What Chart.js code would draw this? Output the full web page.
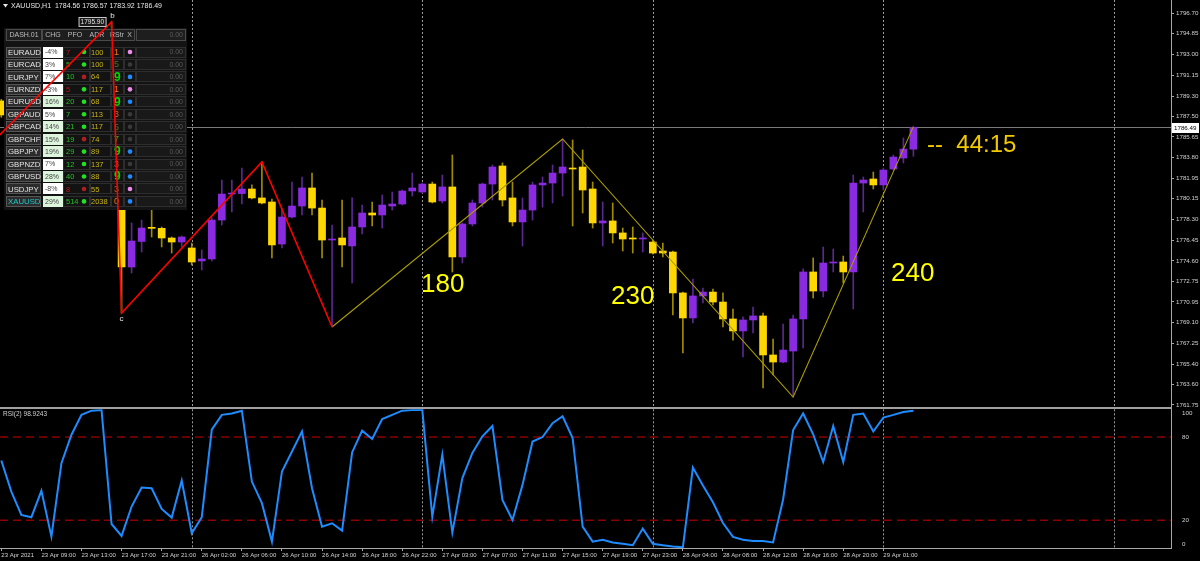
<!DOCTYPE html>
<html>
<head>
<meta charset="utf-8">
<script src="https://cdn.jsdelivr.net/npm/chart.js@4.4.1/dist/chart.umd.min.js"></script>
<style>
  html, body { margin: 0; padding: 0; background: #000; }
  #wrap { position: relative; width: 1200px; height: 561px; background: #000; overflow: hidden; }
  #price { position: absolute; left: 0; top: 0; }
  #rsi { position: absolute; left: 0; top: 408px; }
  #sep { position: absolute; left: 0; top: 407px; width: 1172px; height: 2px; background: #a0a0a0; }
</style>
</head>
<body>
<div id="wrap">
  <canvas id="price" width="1200" height="408"></canvas>
  <canvas id="rsi" width="1200" height="153"></canvas>
  <div id="sep"></div>
</div>
<script>
// ---- data (bar index 0 = 23 Apr 05:00, H1 bars) ----
const opens = [1788.86, null, null, null, null, null, null, null, null, null, null, 1794.74,
  1781.54, 1774.05, 1776.33, 1777.53, 1777.50, 1776.64, 1776.28, 1775.75, 1774.59, 1774.77,
  1778.24, 1780.56, 1780.60, 1781.01, 1780.21, 1779.85, 1776.10, 1778.51, 1779.49, 1781.10,
  1779.31, 1776.46, 1776.64, 1775.93, 1777.62, 1778.87, 1778.69, 1779.49, 1779.67, 1780.83,
  1780.74, 1781.45, 1779.94, 1781.19, 1774.95, 1777.89, 1779.76, 1781.45, 1783.06, 1780.21,
  1778.07, 1779.13, 1781.37, 1781.54, 1782.43, 1782.88, 1782.97, 1781.01, 1777.98, 1778.16,
  1777.09, 1776.64, 1776.55, 1776.28, 1775.48, 1775.39, 1771.74, 1769.51, 1771.47, 1771.82,
  1770.93, 1769.42, 1768.35, 1769.33, 1769.69, 1766.21, 1765.58, 1766.56, 1769.42, 1773.61,
  1771.91, 1774.41, 1774.50, 1773.61, 1781.54, 1781.90, 1781.37, 1782.79, 1783.77, 1784.56];
const highs = [1789.00, null, null, null, null, null, null, null, null, null, null, 1795.90,
  1781.99, 1777.98, 1778.24, 1779.31, 1777.62, 1776.73, 1776.82, 1776.19, 1775.57, 1778.42,
  1781.81, 1781.81, 1782.88, 1781.37, 1783.42, 1780.12, 1779.31, 1781.63, 1782.08, 1782.43,
  1780.03, 1777.80, 1780.03, 1780.21, 1779.58, 1779.85, 1780.47, 1780.74, 1780.92, 1782.43,
  1781.54, 1781.63, 1782.26, 1784.04, 1777.98, 1780.03, 1781.54, 1783.15, 1783.33, 1781.63,
  1780.21, 1781.63, 1782.08, 1783.15, 1785.47, 1785.38, 1784.49, 1781.63, 1779.85, 1779.76,
  1777.53, 1777.62, 1777.09, 1776.46, 1776.19, 1775.48, 1771.82, 1772.98, 1772.18, 1772.09,
  1771.74, 1770.31, 1769.60, 1770.49, 1769.95, 1767.63, 1768.97, 1769.77, 1773.88, 1774.86,
  1775.84, 1775.66, 1775.03, 1782.26, 1782.08, 1782.52, 1782.88, 1784.04, 1785.56, 1786.57];
const lows = [1787.40, null, null, null, null, null, null, null, null, null, null, 1781.37,
  1769.95, 1773.52, 1775.39, 1776.73, 1775.84, 1775.30, 1775.84, 1774.23, 1773.79, 1774.59,
  1777.80, 1778.96, 1779.67, 1780.12, 1779.67, 1774.86, 1775.75, 1778.42, 1778.69, 1778.69,
  1774.86, 1768.70, 1774.05, 1772.63, 1777.00, 1777.71, 1777.53, 1779.13, 1779.58, 1780.38,
  1780.65, 1779.76, 1779.76, 1773.61, 1774.41, 1777.71, 1779.40, 1780.03, 1779.49, 1777.71,
  1775.93, 1778.24, 1779.40, 1779.76, 1780.38, 1777.71, 1778.87, 1777.53, 1775.93, 1776.19,
  1775.48, 1775.30, 1775.39, 1775.21, 1774.95, 1769.77, 1766.39, 1769.06, 1770.84, 1770.67,
  1768.70, 1767.54, 1766.03, 1768.17, 1763.27, 1764.43, 1765.49, 1762.46, 1766.83, 1771.29,
  1771.38, 1773.61, 1772.63, 1770.31, 1778.96, 1781.01, 1780.92, 1782.70, 1783.33, 1783.92];
const closes = [1787.61, null, null, null, null, null, null, null, null, null, null, 1781.54,
  1774.05, 1776.37, 1777.53, 1777.50, 1776.64, 1776.28, 1776.73, 1774.50, 1774.77, 1778.24,
  1780.56, 1780.65, 1781.01, 1780.21, 1779.76, 1776.02, 1778.51, 1779.49, 1781.10, 1779.31,
  1776.46, 1776.55, 1776.02, 1777.62, 1778.87, 1778.69, 1779.58, 1779.67, 1780.83, 1781.10,
  1781.45, 1779.85, 1781.19, 1774.95, 1777.89, 1779.76, 1781.45, 1782.97, 1780.03, 1778.07,
  1779.13, 1781.37, 1781.54, 1782.43, 1782.97, 1782.79, 1780.92, 1777.98, 1778.16, 1777.09,
  1776.55, 1776.55, 1776.64, 1775.30, 1775.30, 1771.74, 1769.51, 1771.47, 1771.82, 1770.93,
  1769.42, 1768.35, 1769.33, 1769.69, 1766.21, 1765.58, 1766.65, 1769.42, 1773.61, 1771.91,
  1774.41, 1774.50, 1773.61, 1781.54, 1781.81, 1781.37, 1782.70, 1783.86, 1784.57, 1786.49];

const rsiValues = [63.1, 40.7, 23.9, 22.2, 41.2, 8.2, 61.2, 81.7, 96, 99, 99.5, 17.3,
  8.7, 29.9, 43.6, 43.1, 28.2, 21.9, 48.7, 10.6, 22.2, 85.3, 96, 97,
  99, 47.9, 32.3, 4.6, 55.2, 69.6, 84.1, 43.1, 15.4, 17.8, 12.5, 68.9,
  84.6, 78.6, 93, 96, 99, 99.5, 99.7, 22.6, 67.2, 11.1, 50.4, 68.5,
  80.5, 88, 34.7, 20.2, 45.5, 76.8, 80.0, 90, 95, 79.3, 15.4, 4.6,
  6, 4, 3, 2, 14, 3, 2, 1, 0.5, 58, 45, 33,
  18, 8, 6, 5, 5, 4, 35, 85, 97, 82, 62, 88,
  62, 96, 97, 84, 94, 96, 98, 98.92];
const rsiLevels = [80, 20];

// zigzag turning points: [bar index, price]
const zigRed = [[-2, 1784.16], [11, 1795.90], [12, 1769.95], [26, 1783.42], [33, 1768.70]];
const zigOlive = [[33, 1768.70], [56, 1785.47], [79, 1762.46], [91, 1786.57]];
const lastPrice = 1786.49;

const priceTicks = [1796.70, 1794.85, 1793.00, 1791.15, 1789.30, 1787.50, 1785.65, 1783.80,
  1781.95, 1780.15, 1778.30, 1776.45, 1774.60, 1772.75, 1770.95, 1769.10, 1767.25, 1765.40,
  1763.60, 1761.75];
const rsiTicks = [0, 20, 80, 100];
const xLabelIdx = [0, 4, 8, 12, 16, 20, 24, 28, 32, 36, 40, 44, 48, 52, 56, 60, 64, 68, 72, 76, 80, 84, 88];
const xLabelText = ['23 Apr 2021', '23 Apr 09:00', '23 Apr 13:00', '23 Apr 17:00', '23 Apr 21:00',
  '26 Apr 02:00', '26 Apr 06:00', '26 Apr 10:00', '26 Apr 14:00', '26 Apr 18:00', '26 Apr 22:00',
  '27 Apr 03:00', '27 Apr 07:00', '27 Apr 11:00', '27 Apr 15:00', '27 Apr 19:00', '27 Apr 23:00',
  '28 Apr 04:00', '28 Apr 08:00', '28 Apr 12:00', '28 Apr 16:00', '28 Apr 20:00', '29 Apr 01:00'];
const daySeparators = [19, 42, 65, 88, 111];

// dashboard table
const dashSyms = ['EURAUD', 'EURCAD', 'EURJPY', 'EURNZD', 'EURUSD', 'GBPAUD', 'GBPCAD',
  'GBPCHF', 'GBPJPY', 'GBPNZD', 'GBPUSD', 'USDJPY', 'XAUUSD'];
const dashChg = ['-4%', '3%', '7%', '-3%', '16%', '5%', '14%', '15%', '19%', '7%', '28%', '-8%', '29%'];
const dashChgHot = [0, 0, 0, 0, 1, 0, 1, 1, 1, 0, 1, 0, 1];
const dashPfo = [7, 5, 10, 5, 20, 7, 21, 19, 29, 12, 40, 8, 514];
const dashPfoUp = [0, 1, 1, 0, 1, 1, 1, 1, 1, 1, 1, 0, 1];
const dashDotUp = [1, 1, 0, 1, 1, 1, 1, 0, 1, 1, 1, 0, 1];
const dashAdr = [100, 100, 64, 117, 68, 113, 117, 74, 89, 137, 88, 55, 2038];
const dashRstr = [1, 5, 9, 1, 9, 3, 5, 7, 9, 3, 9, 3, 0];
const dashX = ['v', 'g', 'b', 'v', 'b', 'g', 'g', 'g', 'b', 'g', 'b', 'v', 'b'];

// ---- styling ----
const X_MIN = -0.13, X_MAX = 116.7;
const BULL = '#8a2be2', BEAR = '#ffd700';
const BULL_WICK = '#5a2890', BEAR_WICK = '#a08a00';
const AXIS = '#a8a8a8', LABEL = '#d2d2d2';
const FONT = '"Liberation Sans", Arial, sans-serif';

const bars = opens.map((o, i) => ({ i, o, h: highs[i], l: lows[i], c: closes[i] })).filter(b => b.o != null);
const bodies = bars.map(b => ({ x: b.i, y: [b.o, b.c] }));
const wicks = bars.map(b => ({ x: b.i, y: [b.l, b.h] }));
const bodyColors = bars.map(b => b.c >= b.o ? BULL : BEAR);
const wickColors = bars.map(b => b.c >= b.o ? BULL_WICK : BEAR_WICK);

function dottedSeparators(chart) {
  const { ctx, chartArea: a, scales: { x } } = chart;
  ctx.save();
  ctx.strokeStyle = '#9a9a9a';
  ctx.lineWidth = 1;
  ctx.setLineDash([2, 2]);
  daySeparators.forEach(v => {
    const px = Math.round(x.getPixelForValue(v)) + 0.5;
    ctx.beginPath();
    ctx.moveTo(px, a.top);
    ctx.lineTo(px, a.bottom);
    ctx.stroke();
  });
  ctx.restore();
}

function rstrStyle(v) {
  if (v >= 9) return ['#00d800', 'bold 12px ' + FONT];
  if (v >= 7) return ['#22b422', '9px ' + FONT];
  if (v >= 5) return ['#58741c', '9px ' + FONT];
  if (v >= 3) return ['#c8641a', '9px ' + FONT];
  return ['#f07814', '9px ' + FONT];
}
const xDotColor = { v: '#f08cf0', g: '#3a3a3a', b: '#1e8cff' };

function drawDash(ctx) {
  ctx.save();
  ctx.fillStyle = '#131313';
  ctx.fillRect(4, 28, 183, 182);
  ctx.lineWidth = 1;
  ctx.textBaseline = 'middle';
  // header
  ctx.fillStyle = '#1e1e1e';
  ctx.fillRect(5, 29, 181, 12);
  ctx.strokeStyle = '#4a4a4a';
  ctx.strokeRect(6.5, 29.5, 35, 11);
  ctx.strokeRect(42.5, 29.5, 92, 11);
  ctx.strokeRect(136.5, 29.5, 49, 11);
  ctx.font = '7px ' + FONT;
  ctx.fillStyle = '#bdbdbd';
  ctx.textAlign = 'center';
  ctx.fillText('DASH.01', 24, 35.5);
  ctx.fillText('CHG', 53, 35.5);
  ctx.fillText('PFO', 75, 35.5);
  ctx.fillText('ADR', 97, 35.5);
  ctx.fillText('RStr', 117, 35.5);
  ctx.fillText('X', 129.5, 35.5);
  ctx.textAlign = 'right';
  ctx.fillStyle = '#5a5a5a';
  ctx.fillText('0.00', 183, 35.5);

  dashSyms.forEach((sym, r) => {
    const cy = 52 + r * 12.45, top = Math.round(cy - 5.5);
    // symbol
    ctx.fillStyle = '#2c2c2c';
    ctx.fillRect(6, top, 35, 11);
    ctx.strokeStyle = '#555';
    ctx.strokeRect(6.5, top + 0.5, 34, 10);
    ctx.textAlign = 'left';
    ctx.font = '7.8px ' + FONT;
    ctx.fillStyle = sym === 'XAUUSD' ? '#1cc8c8' : '#e4e4e4';
    ctx.fillText(sym, 8, cy + 0.5);
    // change
    ctx.fillStyle = dashChgHot[r] ? '#dcf5dc' : '#ffffff';
    ctx.fillRect(43, top, 20, 11);
    ctx.fillStyle = '#444';
    ctx.font = '7px ' + FONT;
    ctx.fillText(dashChg[r], 45, cy + 0.5);
    // other cells
    ctx.strokeStyle = '#2e2e2e';
    ctx.strokeRect(63.5, top + 0.5, 26, 10);
    ctx.strokeRect(90.5, top + 0.5, 20, 10);
    ctx.strokeRect(111.5, top + 0.5, 12, 10);
    ctx.strokeRect(124.5, top + 0.5, 11, 10);
    ctx.fillStyle = '#191919';
    ctx.fillRect(136, top, 50, 11);
    ctx.strokeRect(136.5, top + 0.5, 49, 10);
    ctx.font = '7.5px ' + FONT;
    ctx.fillStyle = dashPfoUp[r] ? '#22c022' : '#c41414';
    ctx.fillText(String(dashPfo[r]), 66, cy + 0.5);
    ctx.beginPath();
    ctx.arc(84, cy, 2.3, 0, Math.PI * 2);
    ctx.fillStyle = dashDotUp[r] ? '#1ee61e' : '#b01e1e';
    ctx.fill();
    ctx.fillStyle = '#c8b414';
    ctx.fillText(String(dashAdr[r]), 91, cy + 0.5);
    const [rc, rf] = rstrStyle(dashRstr[r]);
    ctx.fillStyle = rc;
    ctx.font = rf;
    ctx.fillText(String(dashRstr[r]), 114, cy + 0.5);
    ctx.beginPath();
    ctx.arc(130, cy, 2.3, 0, Math.PI * 2);
    ctx.fillStyle = xDotColor[dashX[r]];
    ctx.fill();
    ctx.textAlign = 'right';
    ctx.font = '7px ' + FONT;
    ctx.fillStyle = '#5a5a5a';
    ctx.fillText('0.00', 183, cy + 0.5);
  });
  ctx.restore();
}

const priceDecor = {
  id: 'priceDecor',
  beforeDraw(chart) {
    const ctx = chart.ctx;
    ctx.save();
    ctx.fillStyle = '#000';
    ctx.fillRect(0, 0, chart.width, chart.height);
    ctx.restore();
  },
  beforeDatasetsDraw(chart) { dottedSeparators(chart); },
  afterDatasetDraw(chart, args) {
    if (chart.data.datasets[args.index].label === 'body') drawDash(chart.ctx);
  },
  afterDraw(chart) {
    const { ctx, scales: { x, y } } = chart;
    ctx.save();
    ctx.textBaseline = 'middle';
    // header line
    ctx.fillStyle = '#e6e6e6';
    ctx.beginPath();
    ctx.moveTo(3, 4); ctx.lineTo(8, 4); ctx.lineTo(5.5, 7.5); ctx.closePath(); ctx.fill();
    ctx.font = '7px ' + FONT;
    ctx.textAlign = 'left';
    ctx.fillText('XAUUSD,H1  1784.56 1786.57 1783.92 1786.49', 11, 6);
    // zigzag labels
    const bx = x.getPixelForValue(zigRed[1][0]), by = y.getPixelForValue(zigRed[1][1]);
    ctx.fillStyle = '#1a1a1a';
    ctx.fillRect(bx - 33, by - 5, 28, 10);
    ctx.strokeStyle = '#c8c8c8';
    ctx.lineWidth = 1;
    ctx.strokeRect(bx - 32.5, by - 4.5, 27, 9);
    ctx.fillStyle = '#e6e6e6';
    ctx.font = '6.5px ' + FONT;
    ctx.fillText('1795.90', bx - 31, by + 0.5);
    ctx.font = '8px ' + FONT;
    ctx.textAlign = 'center';
    ctx.fillText('b', bx + 1, by - 6);
    const cx = x.getPixelForValue(zigRed[2][0]), cyy = y.getPixelForValue(zigRed[2][1]);
    ctx.fillText('c', cx, cyy + 6);
    // count labels
    ctx.fillStyle = '#ffff00';
    ctx.font = '26px ' + FONT;
    ctx.textAlign = 'left';
    ctx.fillText('180', 421, 285);
    ctx.fillText('230', 611, 297);
    ctx.fillText('240', 891, 274);
    ctx.fillStyle = '#f2c800';
    ctx.font = '24px ' + FONT;
    ctx.fillText('--  44:15', 927, 145);
    // last price box on the axis
    const ly = y.getPixelForValue(lastPrice);
    ctx.fillStyle = '#ffffff';
    ctx.fillRect(1172, Math.round(ly) - 5, 27, 10);
    ctx.fillStyle = '#000';
    ctx.font = '6.2px ' + FONT;
    ctx.fillText(lastPrice.toFixed(2), 1174, ly + 0.5);
    ctx.restore();
  }
};

new Chart(document.getElementById('price'), {
  type: 'bar',
  data: {
    datasets: [
      { type: 'line', label: 'zigRed', data: zigRed.map(p => ({ x: p[0], y: p[1] })),
        borderColor: '#ff0000', borderWidth: 1.6, pointRadius: 0, order: 1 },
      { type: 'line', label: 'zigOlive', data: zigOlive.map(p => ({ x: p[0], y: p[1] })),
        borderColor: '#aa9c00', borderWidth: 1.1, pointRadius: 0, order: 2 },
      { type: 'bar', label: 'body', data: bodies, backgroundColor: bodyColors,
        barThickness: 7, maxBarThickness: 7, grouped: false, minBarLength: 1, order: 4 },
      { type: 'bar', label: 'wick', data: wicks, backgroundColor: wickColors,
        barThickness: 1, maxBarThickness: 1, grouped: false, order: 5 },
      { type: 'line', label: 'last', data: [{ x: X_MIN, y: lastPrice }, { x: X_MAX, y: lastPrice }],
        borderColor: '#7a7a7a', borderWidth: 1, pointRadius: 0, order: 6 },
    ]
  },
  options: {
    responsive: false,
    animation: false,
    layout: { padding: { top: 0, left: 0, right: 0, bottom: 2 } },
    plugins: { legend: { display: false }, tooltip: { enabled: false } },
    scales: {
      x: { type: 'linear', min: X_MIN, max: X_MAX, offset: false, display: false },
      y: {
        position: 'right', min: 1761.66, max: 1797.86,
        afterBuildTicks: (s) => { s.ticks = priceTicks.map(v => ({ value: v })); },
        afterFit: (s) => { s.width = 29; s.paddingTop = 0; s.paddingBottom = 0; },
        ticks: { callback: (v) => Number(v).toFixed(2), color: LABEL, font: { size: 6.2, family: FONT },
          padding: 2, autoSkip: false },
        grid: { drawOnChartArea: false, tickLength: 3, tickColor: AXIS },
        border: { color: AXIS },
      },
    },
  },
  plugins: [priceDecor],
});

const rsiDecor = {
  id: 'rsiDecor',
  beforeDraw(chart) {
    const ctx = chart.ctx;
    ctx.save();
    ctx.fillStyle = '#000';
    ctx.fillRect(0, 0, chart.width, chart.height);
    ctx.restore();
  },
  beforeDatasetsDraw(chart) { dottedSeparators(chart); },
  afterDraw(chart) {
    const ctx = chart.ctx;
    ctx.save();
    ctx.fillStyle = '#d0d0d0';
    ctx.font = '6.5px ' + FONT;
    ctx.textBaseline = 'middle';
    ctx.fillText('RSI(2) 98.9243', 3, 6);
    ctx.restore();
  }
};

new Chart(document.getElementById('rsi'), {
  type: 'line',
  data: {
    datasets: [
      { label: 'rsi', data: rsiValues.map((v, i) => ({ x: i, y: v })), borderColor: '#1e8cff',
        borderWidth: 2, pointRadius: 0, tension: 0, order: 0 },
      ...rsiLevels.map(l => ({
        label: 'lvl' + l, data: [{ x: X_MIN, y: l }, { x: X_MAX, y: l }], borderColor: '#8b0000',
        borderWidth: 1.6, borderDash: [8, 5], pointRadius: 0, order: 1
      })),
    ]
  },
  options: {
    responsive: false,
    animation: false,
    layout: { padding: { top: 1.3, left: 0, right: 0, bottom: 0 } },
    plugins: { legend: { display: false }, tooltip: { enabled: false } },
    scales: {
      x: {
        type: 'linear', min: X_MIN, max: X_MAX, offset: false,
        afterBuildTicks: (s) => { s.ticks = xLabelIdx.map(v => ({ value: v })); },
        afterFit: (s) => { s.height = 13; s.paddingLeft = 0; s.paddingRight = 0; },
        ticks: { callback: (v) => xLabelText[xLabelIdx.indexOf(v)], color: LABEL,
          font: { size: 6, family: FONT }, align: 'start', padding: 1, maxRotation: 0, autoSkip: false },
        grid: { drawOnChartArea: false, tickLength: 3, tickColor: AXIS },
        border: { color: AXIS },
      },
      y: {
        position: 'right', min: 0, max: 100,
        afterBuildTicks: (s) => { s.ticks = rsiTicks.map(v => ({ value: v })); },
        afterFit: (s) => { s.width = 29; s.paddingTop = 0; s.paddingBottom = 0; },
        // edge labels are nudged inside the pane, as the terminal draws them
        ticks: { callback: (v) => v === 100 ? ['', '100'] : v === 0 ? ['0', ''] : String(v),
          color: LABEL, font: { size: 6.2, family: FONT }, padding: 3, autoSkip: false },
        grid: { display: false },
        border: { color: AXIS },
      },
    },
  },
  plugins: [rsiDecor],
});
</script>
</body>
</html>
